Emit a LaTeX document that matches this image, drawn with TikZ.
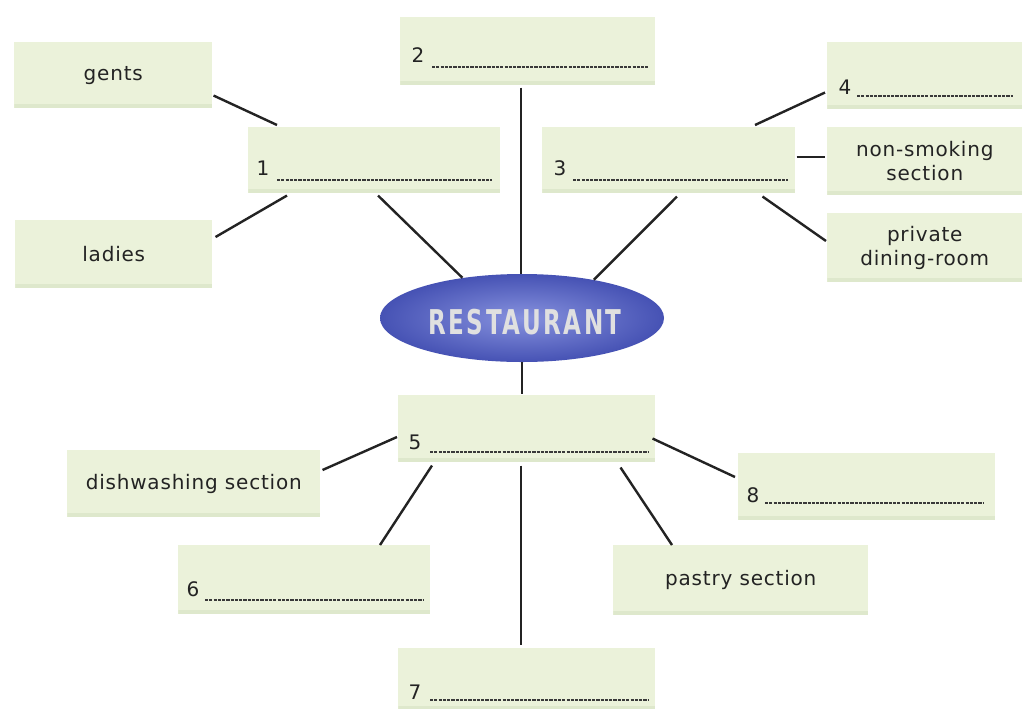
\documentclass[tikz,border=0pt]{standalone}
\usepackage{fontspec}
\usepackage{graphicx}
\usetikzlibrary{shapes.geometric,calc}
\newfontfamily\labelfont[LetterSpace=4]{DejaVu Sans}
\newfontfamily\titlefont[LetterSpace=10]{DejaVu Sans Condensed}
\definecolor{boxfill}{RGB}{235,242,218}
\definecolor{boxedge}{RGB}{222,232,204}
\definecolor{ink}{RGB}{35,35,35}
\definecolor{ovalin}{RGB}{135,146,222}
\definecolor{ovalout}{RGB}{70,82,180}
\begin{document}
\begin{tikzpicture}[x=0.75pt,y=-0.75pt,
  card/.style={fill=boxfill, draw=none, inner sep=0pt, anchor=north west,
    font=\labelfont\fontsize{15}{18}\selectfont, text=ink, align=center,
    path picture={\fill[boxedge] (path picture bounding box.south west)
      rectangle ([yshift=3pt]path picture bounding box.south east);}},
  sz/.style 2 args={minimum width=#1*0.75pt, minimum height=#2*0.75pt},
  link/.style={line width=1.8pt, draw=ink},
  blankline/.style={line width=1pt, draw=ink!90, dash pattern=on 2.4pt off 0.8pt},
  num/.style={font=\labelfont\fontsize{15}{18}\selectfont, text=ink, inner sep=0pt}]

\fill[white] (0,0) rectangle (1025,708);
\useasboundingbox (0,0) rectangle (1025,708);

% boxes
\node[card,sz={198}{66}] (gents) at (14,42) {gents};
\node[card,sz={197}{68}] (ladies) at (15,220) {ladies};
\node[card,sz={252}{66}] (box1) at (248,127) {};
\node[card,sz={255}{68}] (box2) at (400,17) {};
\node[card,sz={253}{66}] (box3) at (542,127) {};
\node[card,sz={195}{67}] (box4) at (827,42) {};
\node[card,sz={195}{68}] (nonsmoking) at (827,127) {non-smoking\\section};
\node[card,sz={195}{69}] (private) at (827,213) {private\\dining-room};
\node[card,sz={257}{67}] (box5) at (398,395) {};
\node[card,sz={253}{67}] (dish) at (67,450) {dishwashing section};
\node[card,sz={252}{69}] (box6) at (178,545) {};
\node[card,sz={257}{62}] (box7) at (398,648) {};
\node[card,sz={257}{67}] (box8) at (738,453) {};
\node[card,sz={255}{70}] (pastry) at (613,545) {pastry section};

% numbers and answer lines
\node[num] (n1) at ($(box1.north west)+(15,41)$) {1};
\draw[blankline] ($(box1.north west)+(29,53)$) -- ($(box1.north west)+(244,53)$);
\node[num] (n2) at ($(box2.north west)+(18,38)$) {2};
\draw[blankline] ($(box2.north west)+(32,50)$) -- ($(box2.north west)+(248,50)$);
\node[num] (n3) at ($(box3.north west)+(18,41)$) {3};
\draw[blankline] ($(box3.north west)+(31,53)$) -- ($(box3.north west)+(246,53)$);
\node[num] (n4) at ($(box4.north west)+(18,45)$) {4};
\draw[blankline] ($(box4.north west)+(30,54)$) -- ($(box4.north west)+(186,54)$);
\node[num] (n5) at ($(box5.north west)+(17,47)$) {5};
\draw[blankline] ($(box5.north west)+(32,57)$) -- ($(box5.north west)+(250,57)$);
\node[num] (n6) at ($(box6.north west)+(15,44)$) {6};
\draw[blankline] ($(box6.north west)+(27,55)$) -- ($(box6.north west)+(245,55)$);
\node[num] (n7) at ($(box7.north west)+(17,44)$) {7};
\draw[blankline] ($(box7.north west)+(32,52)$) -- ($(box7.north west)+(250,52)$);
\node[num] (n8) at ($(box8.north west)+(15,42)$) {8};
\draw[blankline] ($(box8.north west)+(27,50)$) -- ($(box8.north west)+(245,50)$);

% central oval
\node[ellipse, minimum width=284*0.75pt, minimum height=88*0.75pt, inner sep=0pt,
  shading=radial, inner color=ovalin, outer color=ovalout] (hub) at (522,318) {};
\node[text=white!88!black, inner sep=0pt] (title) at ($(hub)+(3,4)$)
  {\resizebox{145pt}{19pt}{\titlefont\bfseries RESTAURANT}};

% connectors
\draw[link] ($(gents.south east)+(1,-13)$) -- ($(box1.north west)+(29,-2)$);
\draw[link] ($(ladies.north east)+(3,17)$) -- ($(box1.south west)+(39,2)$);
\draw[link] ($(box1.south west)+(130,2)$) -- (hub.146);
\draw[link] ($(box2.south west)+(121,2)$) -- (hub.north -| {$(box2.south west)+(121,0)$});
\draw[link] ($(box3.south west)+(135,3)$) -- (hub.28);
\draw[link] ($(box3.north west)+(213,-2)$) -- ($(box4.south west)+(-2,-17)$);
\draw[link] ($(box3.east)+(1,-3)$) -- ($(nonsmoking.west)+(-2,-4)$);
\draw[link] ($(box3.south east)+(-33,3)$) -- ($(private.north west)+(-1,28)$);
\draw[link] (hub.south) -- ($(hub.south |- box5.north)+(0,-1)$);
\draw[link] ($(box5.north west)+(-1,42)$) -- ($(dish.north east)+(2,20)$);
\draw[link] ($(box5.south west)+(34,3)$) -- ($(box6.north west)+(202,0)$);
\draw[link] ($(box5.south west)+(123,3)$) -- ($(box7.north west)+(123,-3)$);
\draw[link] ($(box5.south east)+(-35,5)$) -- ($(pastry.north west)+(59,0)$);
\draw[link] ($(box5.south east)+(-3,-24)$) -- ($(box8.north west)+(-3,24)$);
\end{tikzpicture}
\end{document}
